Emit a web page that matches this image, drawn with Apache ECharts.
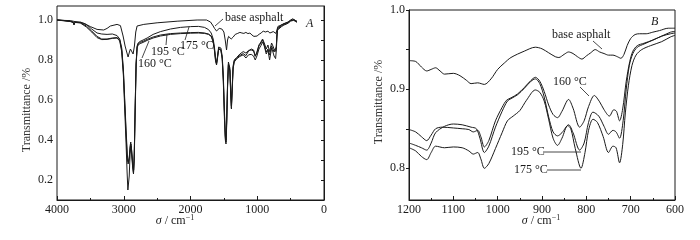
<!DOCTYPE html>
<html>
<head>
<meta charset="utf-8">
<script src="https://cdn.jsdelivr.net/npm/echarts@6/dist/echarts.min.js"></script>
<style>
  html, body { margin: 0; padding: 0; background: #fff; }
  #chart { width: 700px; height: 240px; }
</style>
</head>
<body>
<div id="chart"></div>
<script>
// 光譜資料：[波數 cm^-1, 透過率]
// 左圖 A：全譜 4000-400
const leftBase = [[4000,1.0],[3900,0.998],[3800,0.997],[3700,0.99],[3600,0.983],[3500,0.967],[3400,0.953],[3300,0.95],[3250,0.958],[3200,0.97],[3100,0.978],[3050,0.972],[3010,0.92],[2980,0.87],[2960,0.845],[2935,0.815],[2915,0.84],[2900,0.855],[2880,0.848],[2860,0.83],[2840,0.87],[2820,0.94],[2800,0.97],[2700,0.978],[2500,0.986],[2200,0.994],[1900,1.0],[1760,1.0],[1700,0.99],[1660,0.97],[1640,0.958],[1610,0.945],[1590,0.95],[1570,0.958],[1530,0.955],[1500,0.94],[1480,0.9],[1460,0.85],[1445,0.9],[1430,0.918],[1410,0.915],[1390,0.905],[1377,0.895],[1360,0.915],[1330,0.928],[1300,0.932],[1260,0.938],[1230,0.935],[1200,0.933],[1170,0.938],[1140,0.932],[1110,0.935],[1080,0.925],[1050,0.918],[1030,0.912],[1000,0.92],[970,0.93],[940,0.935],[910,0.945],[880,0.94],[860,0.938],[840,0.944],[810,0.935],[790,0.944],[760,0.942],[740,0.938],[720,0.933],[705,0.95],[690,0.968],[660,0.972],[620,0.978],[580,0.985],[540,0.99],[500,1.0],[470,1.006],[450,1.0],[430,0.998],[410,0.995]];

const left175 = [[4000,1.0],[3900,0.998],[3800,0.994],[3760,0.99],[3745,0.977],[3730,0.99],[3650,0.99],[3560,0.978],[3480,0.955],[3400,0.935],[3330,0.93],[3250,0.928],[3170,0.93],[3100,0.922],[3060,0.905],[3030,0.86],[3005,0.75],[2985,0.6],[2965,0.45],[2945,0.32],[2932,0.29],[2918,0.31],[2905,0.37],[2895,0.39],[2882,0.35],[2865,0.28],[2852,0.25],[2842,0.33],[2830,0.55],[2815,0.78],[2800,0.87],[2785,0.885],[2770,0.88],[2755,0.893],[2735,0.89],[2710,0.9],[2650,0.91],[2560,0.928],[2450,0.942],[2300,0.955],[2150,0.963],[2000,0.967],[1880,0.968],[1790,0.963],[1730,0.952],[1690,0.935],[1660,0.905],[1640,0.86],[1625,0.81],[1610,0.785],[1595,0.82],[1578,0.865],[1562,0.873],[1545,0.86],[1525,0.82],[1508,0.72],[1492,0.55],[1478,0.42],[1468,0.4],[1458,0.5],[1445,0.68],[1432,0.79],[1422,0.8],[1410,0.76],[1398,0.65],[1387,0.57],[1376,0.66],[1362,0.77],[1345,0.8],[1310,0.812],[1260,0.83],[1210,0.842],[1170,0.835],[1130,0.848],[1090,0.85],[1055,0.845],[1030,0.818],[1005,0.84],[975,0.875],[945,0.89],[920,0.905],[895,0.885],[865,0.855],[840,0.875],[815,0.842],[785,0.885],[765,0.87],[748,0.855],[738,0.865],[725,0.843],[714,0.87],[705,0.93],[695,0.96],[675,0.966],[640,0.975],[600,0.982],[560,0.985],[530,0.99],[500,0.998],[475,1.005],[455,1.002],[440,0.997],[420,0.996],[405,0.993]];

const left195 = [[4000,1.0],[3900,0.997],[3800,0.993],[3760,0.989],[3745,0.978],[3730,0.989],[3650,0.987],[3560,0.97],[3480,0.945],[3400,0.918],[3330,0.905],[3250,0.905],[3170,0.91],[3100,0.912],[3060,0.9],[3030,0.85],[3005,0.74],[2985,0.58],[2965,0.43],[2948,0.31],[2935,0.28],[2920,0.3],[2905,0.36],[2893,0.38],[2880,0.34],[2866,0.27],[2854,0.235],[2843,0.32],[2830,0.55],[2815,0.78],[2800,0.865],[2785,0.88],[2770,0.875],[2755,0.888],[2735,0.884],[2710,0.893],[2650,0.903],[2560,0.915],[2450,0.925],[2300,0.932],[2150,0.935],[2000,0.937],[1880,0.938],[1790,0.935],[1730,0.93],[1690,0.92],[1660,0.895],[1640,0.85],[1625,0.8],[1610,0.78],[1595,0.815],[1578,0.858],[1562,0.866],[1545,0.852],[1525,0.81],[1508,0.7],[1492,0.53],[1478,0.41],[1468,0.39],[1458,0.49],[1445,0.67],[1432,0.78],[1422,0.79],[1410,0.75],[1398,0.64],[1387,0.56],[1376,0.65],[1362,0.76],[1345,0.795],[1310,0.81],[1260,0.823],[1210,0.832],[1170,0.822],[1130,0.845],[1090,0.855],[1055,0.85],[1030,0.82],[1005,0.835],[975,0.87],[945,0.885],[920,0.9],[895,0.875],[865,0.84],[840,0.855],[815,0.825],[785,0.87],[765,0.855],[748,0.84],[738,0.848],[725,0.835],[714,0.865],[705,0.925],[695,0.955],[675,0.962],[640,0.97],[600,0.978],[560,0.983],[530,0.988],[500,0.996],[475,1.003],[455,1.0],[440,0.996],[420,0.994],[405,0.99]];

const left160 = [[4000,1.0],[3900,0.996],[3800,0.992],[3760,0.988],[3745,0.976],[3730,0.988],[3650,0.985],[3560,0.965],[3480,0.94],[3400,0.912],[3330,0.902],[3250,0.903],[3170,0.908],[3100,0.91],[3060,0.895],[3030,0.84],[3005,0.72],[2985,0.55],[2965,0.38],[2950,0.24],[2938,0.15],[2928,0.14],[2918,0.22],[2905,0.33],[2893,0.37],[2880,0.32],[2866,0.26],[2854,0.23],[2843,0.3],[2830,0.52],[2815,0.77],[2800,0.86],[2785,0.875],[2770,0.87],[2755,0.882],[2735,0.878],[2710,0.888],[2650,0.898],[2560,0.91],[2450,0.92],[2300,0.928],[2150,0.932],[2000,0.934],[1880,0.935],[1790,0.933],[1730,0.928],[1690,0.918],[1660,0.89],[1640,0.845],[1625,0.795],[1610,0.775],[1595,0.81],[1578,0.855],[1562,0.862],[1545,0.848],[1525,0.805],[1508,0.69],[1492,0.51],[1478,0.4],[1468,0.38],[1458,0.47],[1445,0.66],[1432,0.775],[1422,0.785],[1410,0.745],[1398,0.63],[1387,0.555],[1376,0.64],[1362,0.755],[1345,0.79],[1310,0.805],[1260,0.818],[1210,0.826],[1170,0.81],[1130,0.826],[1090,0.828],[1055,0.82],[1030,0.8],[1005,0.82],[975,0.855],[945,0.872],[920,0.89],[895,0.87],[865,0.83],[840,0.85],[815,0.8],[785,0.86],[765,0.84],[748,0.82],[738,0.828],[725,0.807],[714,0.85],[705,0.915],[695,0.95],[675,0.958],[640,0.966],[600,0.975],[560,0.98],[530,0.986],[500,0.995],[475,1.002],[455,0.998],[440,0.994],[420,0.992],[405,0.988]];

// 右圖 B：1200-600 放大
const rightBase = [[1200,0.936],[1185,0.935],[1172,0.928],[1160,0.923],[1150,0.925],[1140,0.927],[1130,0.923],[1120,0.919],[1100,0.92],[1085,0.917],[1070,0.911],[1060,0.907],[1045,0.908],[1030,0.906],[1015,0.913],[1000,0.925],[985,0.933],[970,0.94],[940,0.948],[915,0.953],[900,0.951],[885,0.946],[870,0.941],[862,0.94],[850,0.944],[840,0.947],[830,0.945],[820,0.941],[810,0.938],[800,0.942],[790,0.946],[780,0.95],[770,0.947],[760,0.945],[750,0.943],[740,0.943],[730,0.941],[722,0.939],[715,0.944],[708,0.955],[700,0.964],[690,0.969],[680,0.97],[665,0.97],[650,0.972],[635,0.974],[615,0.977],[600,0.977]];

const right160 = [[1200,0.849],[1185,0.846],[1172,0.84],[1160,0.835],[1150,0.842],[1140,0.85],[1125,0.852],[1100,0.851],[1080,0.85],[1065,0.849],[1055,0.846],[1045,0.848],[1038,0.84],[1030,0.827],[1020,0.835],[1005,0.86],[990,0.877],[980,0.886],[970,0.889],[955,0.894],[940,0.902],[925,0.911],[915,0.915],[905,0.91],[895,0.897],[885,0.88],[875,0.868],[865,0.864],[855,0.872],[840,0.887],[830,0.876],[815,0.852],[805,0.86],[795,0.878],[782,0.892],[770,0.884],[760,0.874],[748,0.866],[738,0.874],[732,0.872],[725,0.86],[718,0.875],[710,0.91],[702,0.935],[695,0.948],[685,0.955],[670,0.958],[650,0.962],[630,0.967],[610,0.97],[600,0.971]];

const right195 = [[1200,0.832],[1185,0.829],[1172,0.826],[1160,0.823],[1150,0.832],[1140,0.845],[1120,0.853],[1100,0.856],[1080,0.855],[1060,0.852],[1048,0.85],[1040,0.838],[1030,0.82],[1020,0.828],[1005,0.852],[990,0.872],[978,0.885],[970,0.888],[955,0.893],[940,0.901],[925,0.91],[915,0.913],[905,0.907],[895,0.89],[885,0.865],[875,0.846],[865,0.841],[855,0.845],[840,0.855],[830,0.845],[815,0.823],[805,0.832],[795,0.858],[785,0.871],[772,0.866],[760,0.853],[750,0.843],[740,0.848],[733,0.846],[725,0.838],[717,0.86],[710,0.9],[703,0.93],[695,0.945],[685,0.953],[670,0.957],[650,0.962],[630,0.967],[610,0.972],[600,0.973]];

const right175 = [[1200,0.826],[1185,0.822],[1172,0.815],[1160,0.811],[1150,0.82],[1140,0.828],[1120,0.826],[1100,0.827],[1080,0.826],[1065,0.822],[1055,0.818],[1045,0.82],[1038,0.812],[1030,0.8],[1020,0.806],[1005,0.825],[990,0.845],[978,0.86],[965,0.866],[950,0.873],[935,0.886],[915,0.899],[905,0.896],[895,0.885],[885,0.862],[875,0.838],[865,0.829],[855,0.838],[842,0.854],[835,0.85],[825,0.825],[812,0.8],[803,0.82],[795,0.848],[785,0.862],[775,0.858],[762,0.84],[750,0.82],[740,0.828],[733,0.826],[725,0.807],[718,0.83],[712,0.87],[705,0.905],[697,0.93],[688,0.943],[675,0.95],[655,0.955],[630,0.96],[610,0.966],[600,0.968]];

const leftYTicks = [0.1, 0.2, 0.3, 0.4, 0.5, 0.6, 0.7, 0.8, 0.9, 1.0];
const leftYLabels = [0.2, 0.4, 0.6, 0.8, 1.0];
const rightYTicks = [0.8, 0.85, 0.9, 0.95, 1.0];
const rightYLabels = [0.8, 0.9, 1.0];

const ink = '#1a1a1a';
const serif = 'Liberation Serif';

const chart = echarts.init(document.getElementById('chart'));

const xAxisBase = (grid, min, max, interval) => ({
  gridIndex: grid,
  type: 'value',
  min: min,
  max: max,
  interval: interval,
  inverse: true,
  axisLine: { lineStyle: { color: ink, width: 1 } },
  axisTick: { inside: true, length: 4, lineStyle: { color: ink } },
  minorTick: { show: true, splitNumber: 2, length: 2, lineStyle: { color: ink } },
  splitLine: { show: false },
  axisLabel: { color: ink, fontFamily: serif, fontSize: 12, margin: 4, formatter: (v) => String(v) }
});

const yAxisBase = (grid, min, max, ticks, labels) => ({
  gridIndex: grid,
  type: 'value',
  min: min,
  max: max,
  axisLine: { show: true, lineStyle: { color: ink, width: 1 } },
  axisTick: { show: true, length: 3, customValues: ticks, lineStyle: { color: ink } },
  splitLine: { show: false },
  axisLabel: {
    color: ink, fontFamily: serif, fontSize: 12, margin: 4,
    customValues: labels,
    formatter: (v) => v.toFixed(1)
  }
});

const mkLine = (x, y, data) => ({
  type: 'line',
  xAxisIndex: x,
  yAxisIndex: y,
  data: data,
  showSymbol: false,
  smooth: x === 1 ? 0.3 : false,
  lineStyle: { color: ink, width: 1 },
  silent: true
});

const txt = (x, y, text, extra) => ({
  type: 'text',
  x: x,
  y: y,
  style: Object.assign({
    text: text,
    fill: ink,
    fontFamily: serif,
    fontSize: 12,
    align: 'left',
    verticalAlign: 'middle'
  }, extra || {})
});

const seg = (x1, y1, x2, y2) => ({
  type: 'line',
  shape: { x1: x1, y1: y1, x2: x2, y2: y2 },
  style: { stroke: ink, lineWidth: 0.8 }
});

const sigmaRich = {
  i: { fontStyle: 'italic', fontFamily: serif, fontSize: 12, fill: ink },
  sup: { fontFamily: serif, fontSize: 8, fill: ink, padding: [0, 0, 7, 0] }
};

chart.setOption({
  animation: false,
  backgroundColor: '#fff',
  grid: [
    { left: 57, top: 6, width: 267, height: 194, show: true, borderColor: ink, borderWidth: 1 },
    { left: 409, top: 10, width: 266, height: 190, show: true, borderColor: ink, borderWidth: 1 }
  ],
  xAxis: [
    xAxisBase(0, 0, 4000, 1000),
    xAxisBase(1, 600, 1200, 100)
  ],
  yAxis: [
    yAxisBase(0, 0.1, 1.07, leftYTicks, leftYLabels),
    yAxisBase(1, 0.76, 1.0, rightYTicks, rightYLabels)
  ],
  series: [
    mkLine(0, 0, leftBase),
    mkLine(0, 0, left175),
    mkLine(0, 0, left195),
    mkLine(0, 0, left160),
    mkLine(1, 1, rightBase),
    mkLine(1, 1, right160),
    mkLine(1, 1, right195),
    mkLine(1, 1, right175)
  ],
  graphic: [
    // 左圖標註
    txt(225, 18, 'base asphalt'),
    seg(223, 19, 215, 26),
    txt(306, 24, 'A', { fontStyle: 'italic' }),
    txt(138, 64, '160 °C'),
    seg(142, 58, 149, 41),
    txt(151, 52, '195 °C'),
    seg(166, 45, 167, 34),
    txt(180, 46, '175 °C'),
    seg(185, 40, 189, 27),
    // 右圖標註
    txt(552, 35, 'base asphalt'),
    seg(593, 41, 602, 49),
    txt(651, 22, 'B', { fontStyle: 'italic' }),
    txt(553, 82, '160 °C'),
    seg(580, 87, 589, 96),
    txt(511, 152, '195 °C'),
    seg(543, 152, 581, 152),
    txt(514, 170, '175 °C'),
    seg(547, 170, 581, 170),
    // 座標軸名稱
    {
      type: 'text', x: 27, y: 110, rotation: Math.PI / 2,
      style: { text: 'Transmittance /%', fill: '#333', fontFamily: serif, fontSize: 12, align: 'center', verticalAlign: 'middle' }
    },
    {
      type: 'text', x: 379, y: 102, rotation: Math.PI / 2,
      style: { text: 'Transmittance /%', fill: '#333', fontFamily: serif, fontSize: 12, align: 'center', verticalAlign: 'middle' }
    },
    {
      type: 'text', x: 175, y: 221,
      style: { text: '{i|σ} / cm{sup|−1}', rich: sigmaRich, fill: ink, fontFamily: serif, fontSize: 12, align: 'center', verticalAlign: 'middle' }
    },
    {
      type: 'text', x: 541, y: 221,
      style: { text: '{i|σ} / cm{sup|−1}', rich: sigmaRich, fill: ink, fontFamily: serif, fontSize: 12, align: 'center', verticalAlign: 'middle' }
    }
  ]
});
</script>
</body>
</html>
